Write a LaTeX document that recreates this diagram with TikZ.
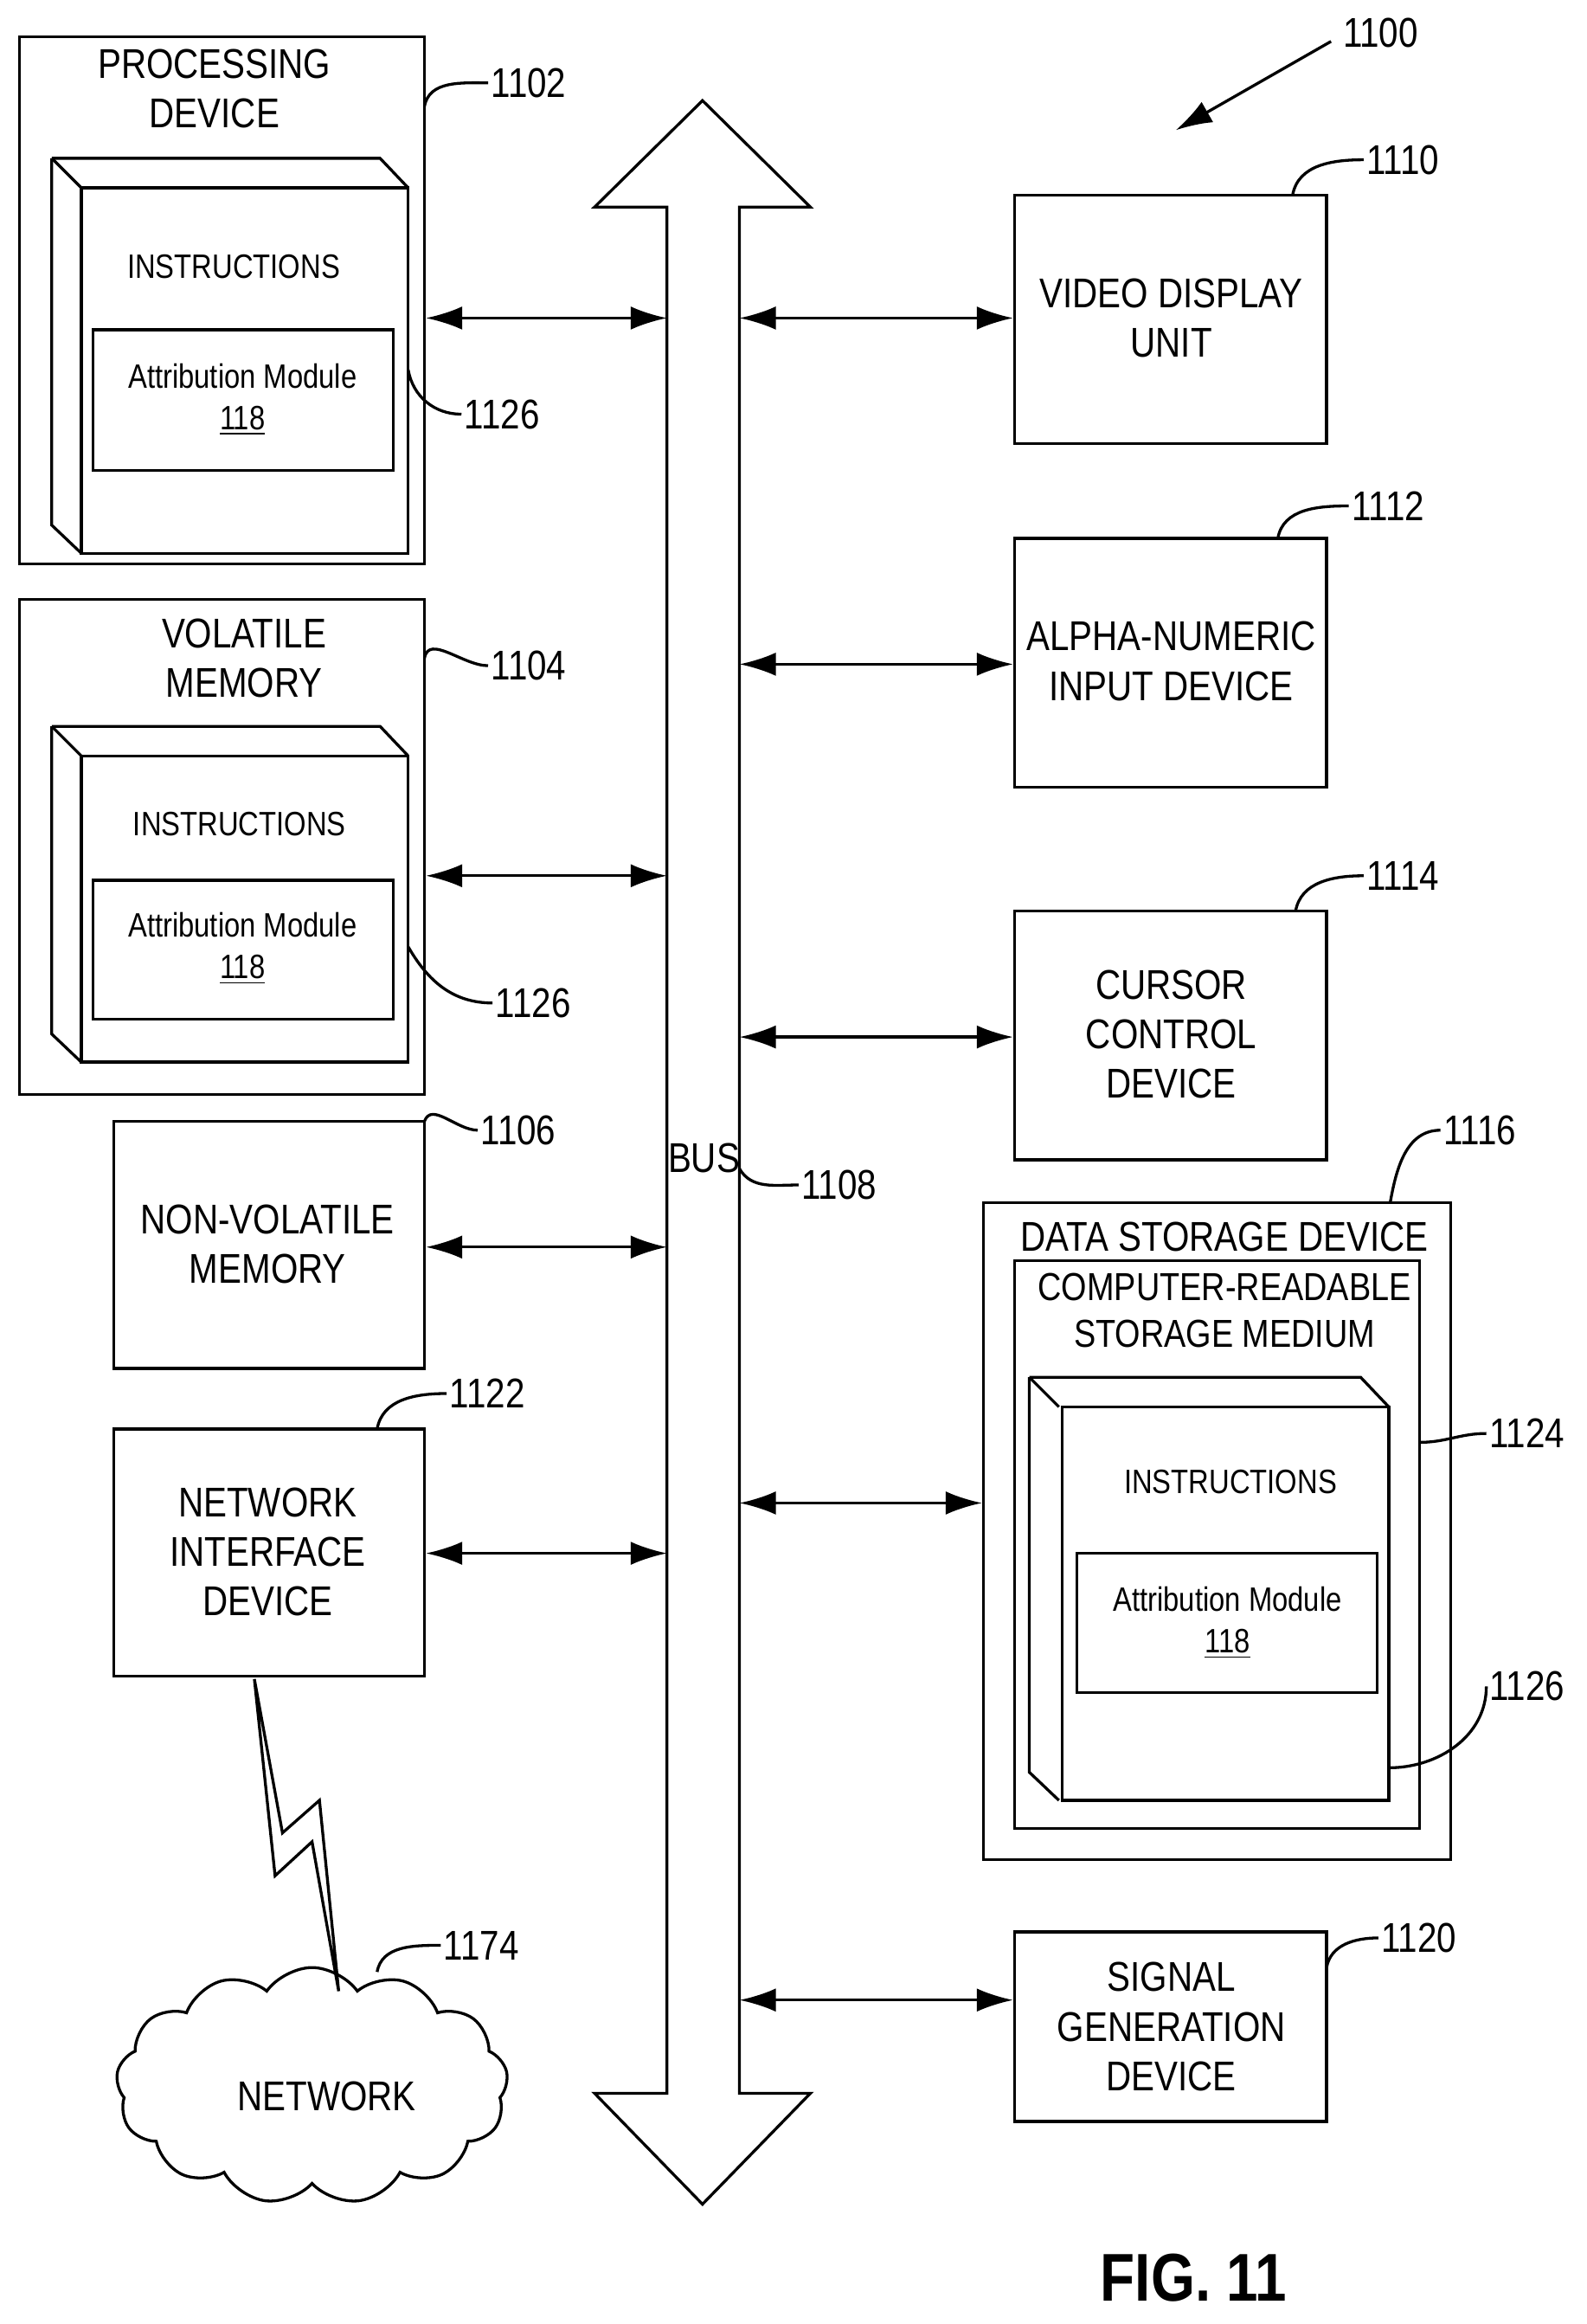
\documentclass[tikz,border=0pt]{standalone}
\usepackage{fontspec}
\setmainfont[FakeStretch=0.84]{Liberation Sans}
\usetikzlibrary{positioning,arrows.meta,fit,shapes.symbols}
\tikzset{
  box/.style={draw, line width=1.1pt, inner sep=0pt},
  lbl/.style={font=\fontsize{16}{19}\selectfont, align=center},
  small/.style={font=\fontsize{13}{16}\selectfont, align=center},
  ref/.style={font=\fontsize{16}{19}\selectfont, anchor=west, inner sep=1pt},
  lead/.style={line width=1.1pt},
  conn/.style={line width=1.1pt, {Latex[length=14pt,width=9pt]}-{Latex[length=14pt,width=9pt]}}
}
\newcommand{\instrbox}[4]{% x0,y0 back corner, x1,y1 front corner
  \draw[line width=1.1pt] (#1,#2) -- (#3-19,#2) -- (#3,#2+20);
  \draw[line width=1.1pt] (#1,#2) -- (#1,#4-19) -- (#1+20,#4);
  \draw[line width=1.1pt] (#1,#2) -- (#1+20,#2+20);
}
\begin{document}
\begin{tikzpicture}[x=0.02cm, y=-0.02cm]
\useasboundingbox (0,0) rectangle (1073,1571);

% processing device
\node[box, fit={(13,25)(287,381)}] (pd) {};
\node[lbl] at (145,60) {PROCESSING\\DEVICE};
\instrbox{35}{107}{276}{374}
\node[box, fit={(55,127)(276,374)}] (pdi) {};
\node[small] at (158,180) {INSTRUCTIONS};
\node[box, fit={(63,223)(266,318)}] (pdm) {};
\node[small] at (164,270) {Attribution Module\\\underline{118}};
\node[ref] (r1102) at (330,56) {1102};
\draw[lead] (287,72) to[out=80,in=180] (r1102.west);
\node[ref] (r1126a) at (312,280) {1126};
\draw[lead] (276,250) to[out=-80,in=180] (r1126a.west);

% volatile memory
\node[box, fit={(13,405)(287,740)}] (vm) {};
\node[lbl] at (165,445) {VOLATILE\\MEMORY};
\instrbox{35}{491}{276}{718}
\node[box, fit={(55,511)(276,718)}] (vmi) {};
\node[small] at (162,557) {INSTRUCTIONS};
\node[box, fit={(63,595)(266,689)}] (vmm) {};
\node[small] at (164,641) {Attribution Module\\\underline{118}};
\node[ref] (r1104) at (330,450) {1104};
\draw[lead] (287,445) to[out=80,in=180] (r1104.west);
\node[ref] (r1126b) at (333,678) {1126};
\draw[lead] (276,640) to[out=-60,in=180] (r1126b.west);

% non-volatile memory
\node[box, fit={(77,758)(287,925)}] (nvm) {};
\node[lbl] at (181,841) {NON-VOLATILE\\MEMORY};
\node[ref] (r1106) at (323,764) {1106};
\draw[lead] (287,758) to[out=70,in=180] (r1106.west);

% network interface device
\node[box, fit={(77,966)(287,1133)}] (nid) {};
\node[lbl] at (181,1049) {NETWORK\\INTERFACE\\DEVICE};
\node[ref] (r1122) at (302,942) {1122};
\draw[lead] (255,966) to[out=80,in=180] (r1122.west);

% network
\node[cloud, draw, line width=1.1pt, cloud puffs=13, cloud puff arc=110, aspect=1.7,
  minimum width=5.3cm, minimum height=3.2cm] (net) at (211,1410) {};
\node[lbl] at (221,1417) {NETWORK};
\node[ref] (r1174) at (298,1315) {1174};
\draw[lead] (255,1333) to[out=80,in=180] (r1174.west);
\draw[line width=1.1pt, line join=miter] (172,1135) -- (186,1268) -- (211,1245) -- (229,1346)
  -- (216,1217) -- (191,1239) -- cycle;

% bus
\draw[line width=1.1pt] (451,140) -- (402,140) -- (475,68) -- (548,140) -- (500,140)
  -- (500,1415) -- (548,1415) -- (475,1490) -- (402,1415) -- (451,1415) -- cycle;
\coordinate (busw) at (451,0);
\coordinate (buse) at (500,0);
\node[lbl, inner sep=0pt] at (476,783) {BUS};
\node[ref] (r1108) at (540,801) {1108};
\draw[lead] (500,790) to[out=-60,in=180] (r1108.west);

% right column
\node[box, fit={(686,132)(897,300)}] (vdu) {};
\node[lbl] at (792,215) {VIDEO DISPLAY\\UNIT};
\node[ref] (r1110) at (922,108) {1110};
\draw[lead] (874,132) to[out=80,in=180] (r1110.west);

\node[box, fit={(686,364)(897,532)}] (anid) {};
\node[lbl] at (792,447) {ALPHA-NUMERIC\\INPUT DEVICE};
\node[ref] (r1112) at (912,342) {1112};
\draw[lead] (864,364) to[out=80,in=180] (r1112.west);

\node[box, fit={(686,616)(897,784)}] (ccd) {};
\node[lbl] at (792,699) {CURSOR\\CONTROL\\DEVICE};
\node[ref] (r1114) at (922,592) {1114};
\draw[lead] (876,616) to[out=80,in=180] (r1114.west);

\node[box, fit={(665,813)(981,1257)}] (dsd) {};
\node[lbl] at (828,836) {DATA STORAGE DEVICE};
\node[ref] (r1116) at (974,764) {1116};
\draw[lead] (940,813) to[out=80,in=180] (r1116.west);
\node[box, fit={(686,852)(960,1236)}] (crsm) {};
\node[lbl, font=\fontsize{15}{18}\selectfont] at (828,886) {COMPUTER-READABLE\\STORAGE MEDIUM};
\node[ref] (r1124) at (1005,969) {1124};
\draw[lead] (960,975) to[out=0,in=180] (r1124.west);
\instrbox{696}{931}{939}{1217}
\node[box, fit={(718,951)(939,1217)}] (dsi) {};
\node[small] at (832,1002) {INSTRUCTIONS};
\node[box, fit={(728,1050)(931,1144)}] (dsm) {};
\node[small] at (830,1097) {Attribution Module\\\underline{118}};
\node[ref] (r1126c) at (1005,1140) {1126};
\draw[lead] (939,1195) to[out=0,in=-90] (r1126c.west);

\node[box, fit={(686,1306)(897,1434)}] (sgd) {};
\node[lbl] at (792,1370) {SIGNAL\\GENERATION\\DEVICE};
\node[ref] (r1120) at (932,1310) {1120};
\draw[lead] (897,1330) to[out=80,in=180] (r1120.west);

% bus connections
\draw[conn] (pd.east |- 0,215) -- (busw |- 0,215);
\draw[conn] (vm.east |- 0,592) -- (busw |- 0,592);
\draw[conn] (nvm.east |- 0,843) -- (busw |- 0,843);
\draw[conn] (nid.east |- 0,1050) -- (busw |- 0,1050);
\draw[conn] (buse |- 0,215) -- (vdu.west |- 0,215);
\draw[conn] (buse |- 0,449) -- (anid.west |- 0,449);
\draw[conn] (buse |- 0,701) -- (ccd.west |- 0,701);
\draw[conn] (buse |- 0,1016) -- (dsd.west |- 0,1016);
\draw[conn] (buse |- 0,1352) -- (sgd.west |- 0,1352);

% figure reference
\node[ref] (r1100) at (906,22) {1100};
\coordinate (p1100) at (795,88);
\draw[line width=1.1pt, -{Latex[length=14pt,width=9pt]}] (900,28) -- (p1100);
\node[font=\fontsize{26}{30}\selectfont\bfseries] at (807,1540) {FIG. 11};
\end{tikzpicture}
\end{document}
